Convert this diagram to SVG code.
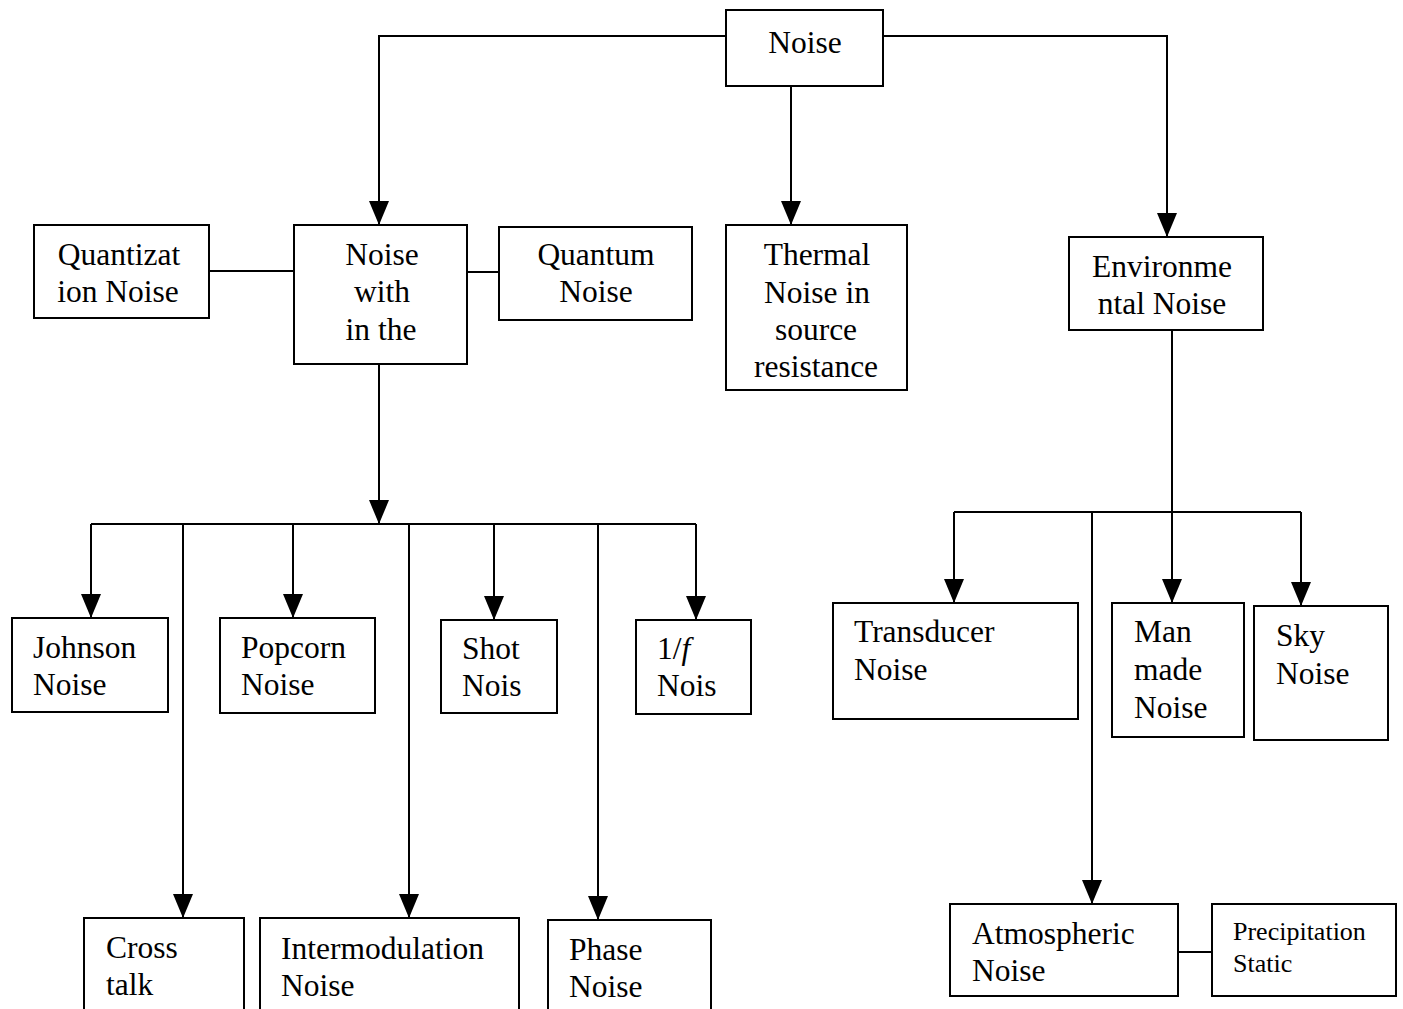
<svg xmlns="http://www.w3.org/2000/svg" width="1403" height="1009" viewBox="0 0 1403 1009">
<style>
.box{fill:#fff;stroke:#000;stroke-width:2}
.t{font-family:"Liberation Serif","Times New Roman",serif;font-size:31.5px;fill:#000}
.c{text-anchor:middle}
.s{font-size:26px}
.ln{fill:none;stroke:#000;stroke-width:2}
</style>
<defs>
<marker id="ar" markerUnits="userSpaceOnUse" markerWidth="26" markerHeight="22" refX="24" refY="10" orient="auto">
<path d="M0,0 L24,10 L0,20 z" fill="#000"/>
</marker>
</defs>
<rect width="1403" height="1009" fill="#fff"/>
<g id="connectors">
<path class="ln" d="M726,36 H379 V225" marker-end="url(#ar)"/>
<path class="ln" d="M883,36 H1167 V237" marker-end="url(#ar)"/>
<path class="ln" d="M791,86 V225" marker-end="url(#ar)"/>
<path class="ln" d="M209,271 H294"/>
<path class="ln" d="M467,272 H499"/>
<path class="ln" d="M379,364 V524" marker-end="url(#ar)"/>
<path class="ln" d="M91,524 H696"/>
<path class="ln" d="M91,524 V618" marker-end="url(#ar)"/>
<path class="ln" d="M183,524 V918" marker-end="url(#ar)"/>
<path class="ln" d="M293,524 V618" marker-end="url(#ar)"/>
<path class="ln" d="M409,524 V918" marker-end="url(#ar)"/>
<path class="ln" d="M494,524 V620" marker-end="url(#ar)"/>
<path class="ln" d="M598,524 V920" marker-end="url(#ar)"/>
<path class="ln" d="M696,524 V620" marker-end="url(#ar)"/>
<path class="ln" d="M1172,330 V603" marker-end="url(#ar)"/>
<path class="ln" d="M954,512 H1301"/>
<path class="ln" d="M954,512 V603" marker-end="url(#ar)"/>
<path class="ln" d="M1092,512 V904" marker-end="url(#ar)"/>
<path class="ln" d="M1301,512 V606" marker-end="url(#ar)"/>
<path class="ln" d="M1178,952 H1212"/>
</g>
<g id="noise"><rect class="box" x="726" y="10" width="157" height="76"/><text class="t c" x="805" y="53">Noise</text></g>
<g id="quantization"><rect class="box" x="34" y="225" width="175" height="93"/><text class="t c" x="119" y="265">Quantizat</text><text class="t c" x="118" y="302">ion Noise</text></g>
<g id="within"><rect class="box" x="294" y="225" width="173" height="139"/><text class="t c" x="382" y="265">Noise</text><text class="t c" x="382" y="302">with</text><text class="t c" x="381" y="340">in the</text></g>
<g id="quantum"><rect class="box" x="499" y="227" width="193" height="93"/><text class="t c" x="596" y="265">Quantum</text><text class="t c" x="596" y="302">Noise</text></g>
<g id="thermal"><rect class="box" x="726" y="225" width="181" height="165"/><text class="t c" x="817" y="265">Thermal</text><text class="t c" x="817" y="303">Noise in</text><text class="t c" x="816" y="340">source</text><text class="t c" x="816" y="377">resistance</text></g>
<g id="environmental"><rect class="box" x="1069" y="237" width="194" height="93"/><text class="t c" x="1162" y="277">Environme</text><text class="t c" x="1162" y="314">ntal Noise</text></g>
<g id="johnson"><rect class="box" x="12" y="618" width="156" height="94"/><text class="t" x="33" y="658">Johnson</text><text class="t" x="33" y="695">Noise</text></g>
<g id="popcorn"><rect class="box" x="220" y="618" width="155" height="95"/><text class="t" x="241" y="658">Popcorn</text><text class="t" x="241" y="695">Noise</text></g>
<g id="shot"><rect class="box" x="441" y="620" width="116" height="93"/><text class="t" x="462" y="659">Shot</text><text class="t" x="462" y="696">Nois</text></g>
<g id="oneoverf"><rect class="box" x="636" y="620" width="115" height="94"/><text class="t" x="657" y="659">1/<tspan font-style="italic">f</tspan></text><text class="t" x="657" y="696">Nois</text></g>
<g id="crosstalk"><rect class="box" x="84" y="918" width="160" height="100"/><text class="t" x="106" y="958">Cross</text><text class="t" x="106" y="995">talk</text></g>
<g id="intermodulation"><rect class="box" x="260" y="918" width="259" height="100"/><text class="t" x="281" y="959">Intermodulation</text><text class="t" x="281" y="996">Noise</text></g>
<g id="phase"><rect class="box" x="548" y="920" width="163" height="100"/><text class="t" x="569" y="960">Phase</text><text class="t" x="569" y="997">Noise</text></g>
<g id="transducer"><rect class="box" x="833" y="603" width="245" height="116"/><text class="t" x="854" y="642">Transducer</text><text class="t" x="854" y="680">Noise</text></g>
<g id="manmade"><rect class="box" x="1112" y="603" width="132" height="134"/><text class="t" x="1134" y="642">Man</text><text class="t" x="1134" y="680">made</text><text class="t" x="1134" y="718">Noise</text></g>
<g id="sky"><rect class="box" x="1254" y="606" width="134" height="134"/><text class="t" x="1276" y="646">Sky</text><text class="t" x="1276" y="684">Noise</text></g>
<g id="atmospheric"><rect class="box" x="950" y="904" width="228" height="92"/><text class="t" x="972" y="944">Atmospheric</text><text class="t" x="972" y="981">Noise</text></g>
<g id="precipitation"><rect class="box" x="1212" y="904" width="184" height="92"/><text class="t s" x="1233" y="940">Precipitation</text><text class="t s" x="1233" y="972">Static</text></g>
</svg>
